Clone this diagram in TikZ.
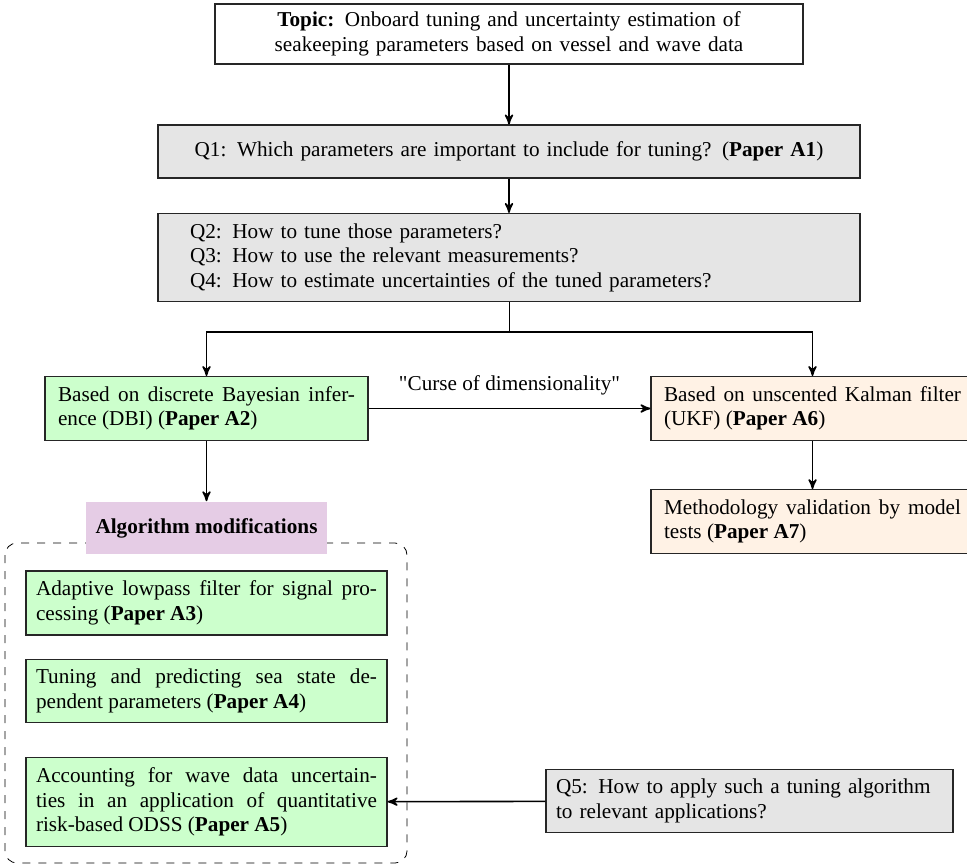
\documentclass[tikz,border=0pt]{standalone}
\usepackage{fontspec}
\setmainfont{Liberation Serif}
\usetikzlibrary{arrows}

\begin{document}
\begin{tikzpicture}[->,>=stealth',thick,x=0.5pt,y=-0.5pt,
  every node/.style={font=\fontsize{10.6pt}{12.2pt}\selectfont},
  box/.style={rectangle,draw=black!85,semithick,inner sep=5pt},
  gray box/.style={box,fill=gray!20,text width=319pt,inner xsep=16pt,align=left},
  green box/.style={box,fill=green!20,align=justify},
  orange box/.style={box,fill=orange!10,text width=148.5pt,inner xsep=6.5pt,align=justify}]

 \useasboundingbox (0,0) rectangle (967,867);

 % frame round the modifications
 \draw[-,thin,dash pattern=on 4pt off 4pt,rounded corners=6pt] (5,543) rectangle (407,863);

 \node[box,fill=white,text width=284pt,align=center,inner ysep=4pt] (topic) at (509,34)
   {\textbf{Topic:} Onboard tuning and uncertainty estimation of\\ seakeeping parameters based on vessel and wave data};
 \node[gray box,align=center,minimum height=26.5pt] (q1) at (509,151.5)
   {Q1: Which parameters are important to include for tuning? (\textbf{Paper A1})};
 \node[gray box] (q2) at (509,257.5)
   {Q2: How to tune those parameters?\\
    Q3: How to use the relevant measurements?\\
    Q4: How to estimate uncertainties of the tuned parameters?};

 \node[green box,text width=148.5pt,inner xsep=6.5pt] (dbi) at (206.5,408.5)
   {Based on discrete Bayesian infer-\linebreak ence (DBI) (\textbf{Paper A2})};
 \node[orange box] (ukf) at (812.5,408.5)
   {Based on unscented Kalman filter\linebreak (UKF) (\textbf{Paper A6})};
 \node[orange box] (meth) at (812.5,521.5)
   {Methodology validation by model\linebreak tests (\textbf{Paper A7})};

 \node[fill=violet!20,minimum width=120.5pt,minimum height=26pt,font=\fontsize{10.6pt}{12.2pt}\selectfont\bfseries] (alg) at (206.5,528)
   {Algorithm modifications};
 \node[green box,text width=170.5pt] (adapt) at (206.5,603)
   {Adaptive lowpass filter for signal pro-\linebreak cessing (\textbf{Paper A3})};
 \node[green box,text width=170.5pt] (tune) at (206.5,691)
   {Tuning and predicting sea state de-\linebreak pendent parameters (\textbf{Paper A4})};
 \node[green box,text width=170.5pt] (acc) at (206.5,802)
   {Accounting for wave data uncertain-\linebreak ties in an application of quantitative\linebreak risk-based ODSS (\textbf{Paper A5})};

 \node[gray box,text width=193.5pt,inner xsep=5pt] (q5) at (749.5,801)
   {Q5: How to apply such a tuning algorithm\\ to relevant applications?};

 \coordinate (fork) at (509.5,332);

 \draw (topic) -- (q1);
 \draw (q1) -- (q2);
 \draw[-] (q2.south -| fork) -- (fork);
 \draw (fork) -| (dbi);
 \draw (fork) -| (ukf);
 \draw (dbi) -- node[above=3pt,-,font=\fontsize{10.6pt}{12.2pt}\selectfont\addfontfeature{Ligatures=TeXOff}] {"Curse of dimensionality"} (ukf);
 \draw (ukf) -- (meth);
 \draw (dbi) -- (alg);
 \draw (q5) -- (acc);

\end{tikzpicture}
\end{document}
